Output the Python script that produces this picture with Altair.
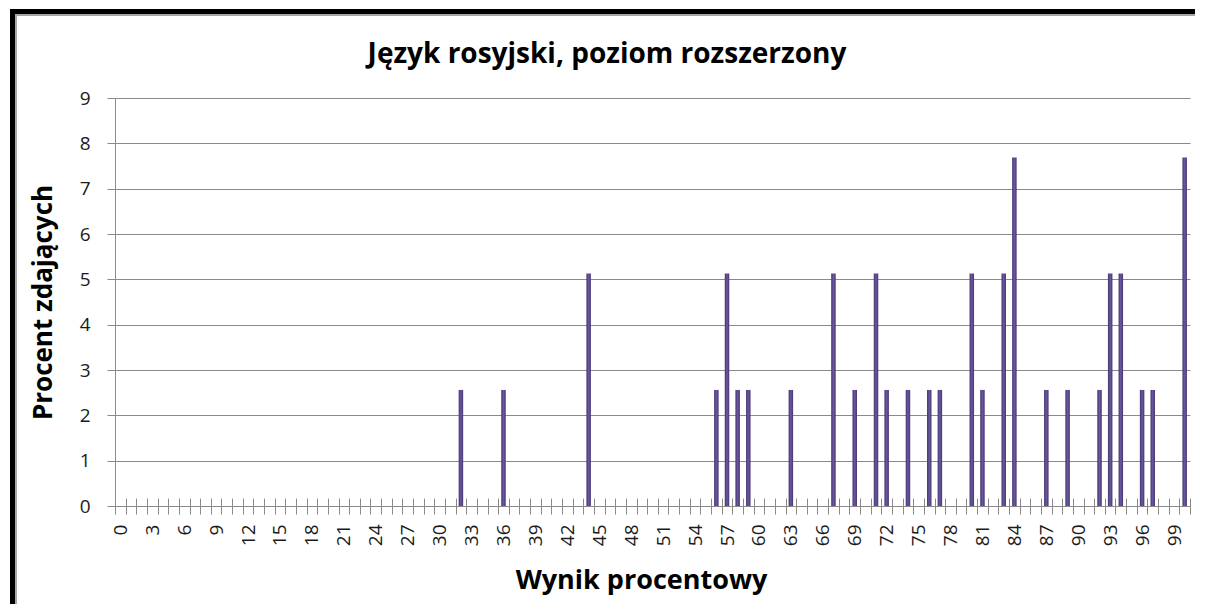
import altair as alt
import pandas as pd

# ---- data ----
scores = [32, 36, 44, 56, 57, 58, 59, 63, 67, 69, 71, 72, 74, 76, 77, 80, 81, 83,
          84, 87, 89, 92, 93, 94, 96, 97, 100]
percents = [2.56, 2.56, 5.13, 2.56, 5.13, 2.56, 2.56, 2.56, 5.13, 2.56, 5.13, 2.56,
            2.56, 2.56, 2.56, 5.13, 2.56, 5.13, 7.69, 2.56, 2.56, 2.56, 5.13, 5.13,
            2.56, 2.56, 7.69]
categories = list(range(0, 101))
y_ticks = list(range(0, 10))

chart_title = "Język rosyjski, poziom rozszerzony"
x_title = "Wynik procentowy"
y_title = "Procent zdających"

pct_map = dict(zip(scores, percents))
df = pd.DataFrame({
    "wynik": categories,
    "procent": [pct_map.get(c, 0.0) for c in categories],
})

W, H = 1075, 408
PAD = {"left": 107, "top": 90, "right": 5, "bottom": 98}
FONT = "Open Sans"
GRID = "#8a8a8a"

bar_fill = alt.LinearGradient(
    gradient="linear",
    stops=[alt.GradientStop(color="#45356f", offset=0),
           alt.GradientStop(color="#6b57a1", offset=0.5),
           alt.GradientStop(color="#45356f", offset=1)],
    x1=0, x2=1, y1=0, y2=0,
)

bars = alt.Chart(df).mark_bar(size=4.5, fill=bar_fill).encode(
    x=alt.X(
        "wynik:O",
        scale=alt.Scale(domain=categories, paddingInner=0, paddingOuter=0),
        axis=alt.Axis(
            title=x_title,
            labelExpr="datum.value % 3 == 0 ? datum.label : ''",
            labelAngle=270,
            tickBand="extent",
            offset=-8,
            tickSize=16,
            tickColor=GRID,
            domain=False,
            grid=False,
            labelPadding=10,
            labelFont=FONT,
            labelFontSize=19,
            labelColor="#1a1a1a",
            titleFont=FONT,
            titleFontSize=27,
            titleFontWeight="bold",
            titleColor="#000000",
            titleX=526,
            titleY=90,
            titleAlign="center",
            titleBaseline="alphabetic",
        ),
    ),
    y=alt.Y(
        "procent:Q",
        scale=alt.Scale(domain=[0, 9], nice=False),
        axis=alt.Axis(
            title=y_title,
            values=y_ticks,
            tickSize=8,
            tickColor=GRID,
            domainColor=GRID,
            gridColor=GRID,
            grid=True,
            labelPadding=17,
            labelFont=FONT,
            labelFontSize=19,
            labelColor="#1a1a1a",
            titleFont=FONT,
            titleFontSize=26,
            titleFontWeight="bold",
            titleColor="#000000",
            titleX=-72,
            titleY=204,
            titleAngle=270,
            titleAlign="center",
            titleBaseline="middle",
        ),
    ),
)

# decorative frame (top and left edges of the chart border), drawn as rects
right_edge = W + PAD["right"]
bottom_edge = H + PAD["bottom"]
one = pd.DataFrame({"k": [0]})


def band(x1, x2, y1, y2, color):
    return alt.Chart(one).mark_rect(color=color, strokeWidth=0).encode(
        x=alt.value(x1), x2=alt.value(x2), y=alt.value(y1), y2=alt.value(y2))


shadow_top = band(-100, right_edge, -84, -82, "#a6a6a6")
shadow_left = band(-100, -98, -84, bottom_edge, "#a6a6a6")
frame_top = band(-105, right_edge, -89, -84, "#000000")
frame_left = band(-105, -100, -89, bottom_edge, "#000000")

title = alt.Chart(pd.DataFrame({"t": [chart_title]})).mark_text(
    font=FONT, fontSize=28, fontWeight="bold", align="center",
    baseline="alphabetic", color="#000000",
).encode(text="t:N", x=alt.value(492), y=alt.value(-35))

chart = alt.layer(shadow_top, shadow_left, frame_top, frame_left, bars, title).properties(
    width=W,
    height=H,
    padding=PAD,
    autosize=alt.AutoSizeParams(type="none"),
    background="#ffffff",
).configure_view(stroke=None)

chart.save("out.html", embed_options={"renderer": "svg", "actions": False})
